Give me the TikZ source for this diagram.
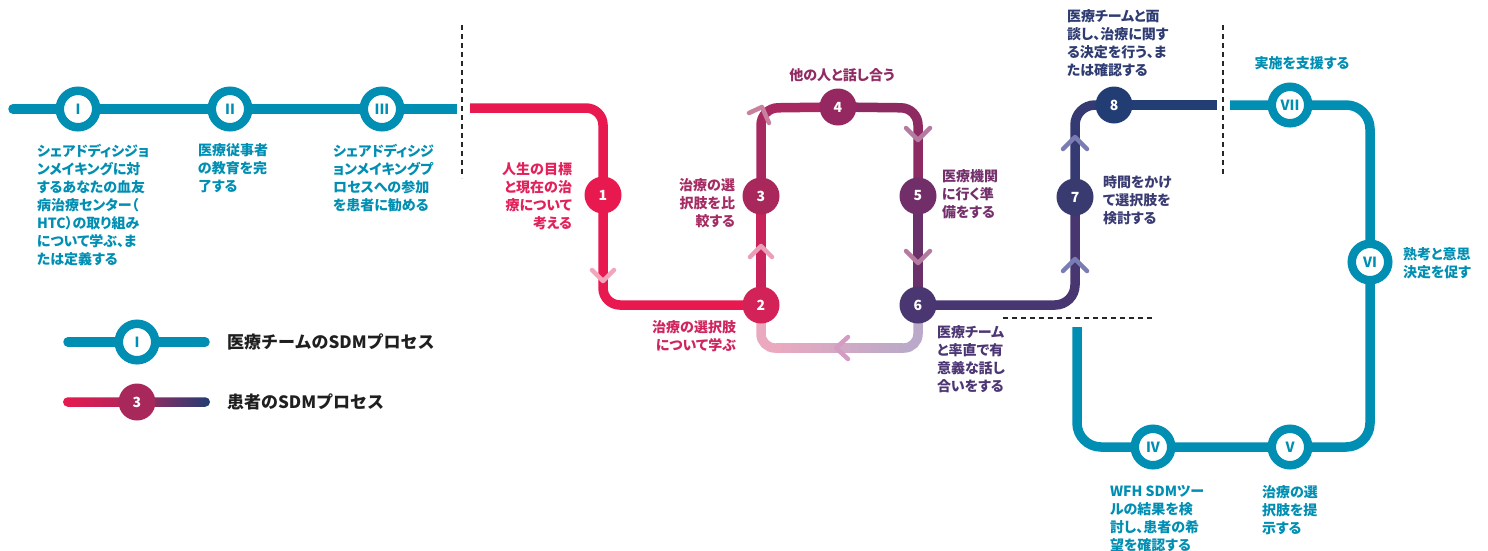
\documentclass[tikz,border=0pt]{standalone}
\usepackage{fontspec}
\newfontfamily\jp{Noto Sans CJK JP}[RawFeature=+palt]
\newfontfamily\jpl{Noto Sans CJK JP}
\usetikzlibrary{calc}
\pgfdeclarelayer{bg}
\pgfsetlayers{bg,main}
\definecolor{tealc}{HTML}{008EB2}
\definecolor{n1c}{HTML}{E8194F}
\definecolor{n2c}{HTML}{D22257}
\definecolor{n3c}{HTML}{A8285C}
\definecolor{n4c}{HTML}{952860}
\definecolor{n5c}{HTML}{722E68}
\definecolor{n6c}{HTML}{4A3670}
\definecolor{n7c}{HTML}{393A70}
\definecolor{n8c}{HTML}{213D74}
\definecolor{sA}{HTML}{E8194F}
\definecolor{sB}{HTML}{C8235A}
\definecolor{sC}{HTML}{A82860}
\definecolor{sD}{HTML}{8E2A62}
\definecolor{sE}{HTML}{6A306A}
\definecolor{sF}{HTML}{483670}
\definecolor{sG}{HTML}{353A72}
\definecolor{sH}{HTML}{233D75}
\definecolor{rA}{HTML}{EAA9BF}
\definecolor{rB}{HTML}{BBA9C9}
\definecolor{t1}{HTML}{E2215A}
\definecolor{t2}{HTML}{D0245C}
\definecolor{t3}{HTML}{A52B62}
\definecolor{t4}{HTML}{902B63}
\definecolor{t5}{HTML}{73306B}
\definecolor{t6}{HTML}{4C3673}
\definecolor{t7}{HTML}{3A3B72}
\definecolor{t8}{HTML}{2E3C72}
\definecolor{cpink}{HTML}{F3A5BC}
\definecolor{cpink2}{HTML}{EC9DB8}
\definecolor{cmag}{HTML}{C9809F}
\definecolor{cplum}{HTML}{B57A9F}
\definecolor{clav}{HTML}{D49CC3}
\definecolor{cblue}{HTML}{7A7DB4}
\begin{document}
\begin{tikzpicture}[x=1pt,y=-1pt,
  every node/.style={inner sep=0pt, outer sep=0pt},
  ring/.style={circle, draw=tealc, line width=8.5pt, fill=white, minimum size=36.5pt, font=\jp\bfseries\fontsize{14}{14}\selectfont, text=tealc},
  pnode/.style={circle, minimum size=37pt, text=white, font=\jp\bfseries\fontsize{14}{14}\selectfont},
  lbl/.style={font=\jp\bfseries\fontsize{14}{18}\selectfont},
  leg/.style={font=\jpl\bfseries\fontsize{17}{17}\selectfont, text=black!88, anchor=west},
  tline/.style={draw=tealc, line width=9.5pt},
  pline/.style={line width=9.5pt},
  chev/.style={line width=4.5pt, line cap=round, line join=round},
  sepline/.style={draw=black!85, line width=1.6pt, dash pattern=on 5pt off 4pt}
]
\useasboundingbox (0,0) rectangle (1488,550);

% ---- nodes ----
\node[ring] (r1) at (78,109) {I};
\node[ring] (r2) at (230,109) {II};
\node[ring] (r3) at (382,109) {III};

\node[pnode, fill=n1c] (p1) at (603,195) {1};
\node[pnode, fill=n2c] (p2) at (761,305) {2};
\node[pnode, fill=n3c] (p3) at (761,196) {3};
\node[pnode, fill=n4c] (p4) at (838,107) {4};
\node[pnode, fill=n5c] (p5) at (918,196) {5};
\node[pnode, fill=n6c] (p6) at (918,305) {6};
\node[pnode, fill=n7c] (p7) at (1075,197) {7};
\node[pnode, fill=n8c] (p8) at (1114,105) {8};

\node[ring] (r7) at (1290,105) {VII};
\node[ring] (r6) at (1370,262) {VI};
\node[ring] (r4) at (1153,447) {IV};
\node[ring] (r5) at (1290,447) {V};

% ---- coordinates ----
\coordinate (tL) at (13,109);
\coordinate (tR) at (457,109);
\coordinate (pS) at (470,108);
\coordinate (k1) at (603,108);
\coordinate (k2) at (603,305);
\coordinate (k3) at (761,108);
\coordinate (k4) at (918,108);
\coordinate (k5) at (1075,305);
\coordinate (k6) at (1075,105);
\coordinate (pE) at (1217,105);
\coordinate (q1) at (761,348);
\coordinate (q2) at (918,348);
\coordinate (u0) at (1230,105);
\coordinate (u1) at (1370,105);
\coordinate (u2) at (1370,447);
\coordinate (u3) at (1077,447);
\coordinate (u4) at (1077,327);

\begin{pgfonlayer}{bg}
% teal left
\draw[tline, line cap=round] (tL) -- (r2.center);
\draw[tline] (r2.center) -- (tR);
% patient path
\draw[pline, draw=sA, rounded corners=17] (pS) -- (k1) -- (p1.center);
\draw[pline, draw=sA, rounded corners=17] (p1.center) -- (k2) -- (p2.center);
\draw[pline, draw=sB] (p2.center) -- (p3.center);
\draw[pline, draw=sC, rounded corners=17] (p3.center) -- (k3) -- (p4.center);
\draw[pline, draw=sD, rounded corners=17] (p4.center) -- (k4) -- (p5.center);
\draw[pline, draw=sE] (p5.center) -- (p6.center);
\draw[pline, draw=sF, rounded corners=20] (p6.center) -- (k5) -- (p7.center);
\draw[pline, draw=sG, rounded corners=20] (p7.center) -- (k6) -- (p8.center);
\draw[pline, draw=sH] (p8.center) -- (pE);
% return path
\draw[pline, draw=rA, rounded corners=14] (p2.center) -- (q1) -- ($(q1)+(16,0)$);
\draw[pline, draw=rB, rounded corners=14] ($(q2)+(-16,0)$) -- (q2) -- (p6.center);
\shade[left color=rA, right color=rB] (776,343.25) rectangle (903,352.75);
% teal right
\draw[tline, rounded corners=24] (u0) -- (r7.center) -- (u1) -- (r6.center) -- (u2) -- (r5.center) -- (r4.center) -- (u3) -- (u4);
\end{pgfonlayer}

% ---- separators ----
\coordinate (d1a) at (462,25); \coordinate (d1b) at (462,178);
\coordinate (d2a) at (1223,25); \coordinate (d2b) at (1223,177);
\coordinate (d3a) at (1003,318); \coordinate (d3b) at (1155,318);
\draw[sepline] (d1a) -- (d1b);
\draw[sepline] (d2a) -- (d2b);
\draw[sepline] (d3a) -- (d3b);

% ---- chevrons ----
\draw[chev, draw=cpink] (592,270) -- (603,281) -- (614,270);
\draw[chev, draw=cpink2] (750,257) -- (761,246) -- (772,257);
\draw[chev, draw=cmag] (749,113) -- (762,107) -- (769,123);
\draw[chev, draw=cplum] (906,128) -- (918,140) -- (930,128);
\draw[chev, draw=cplum] (906,251) -- (918,263) -- (930,251);
\draw[chev, draw=clav] (848,337) -- (836,348) -- (848,359);
\draw[chev, draw=cblue] (1063,149) -- (1075,137) -- (1087,149);
\draw[chev, draw=cblue] (1063,271) -- (1075,259) -- (1087,271);

% ---- labels ----
\node[lbl, text=tealc, anchor=north west, align=left] (l1) at (37,144) {シェアドディシジョ\\ンメイキングに対\\するあなたの血友\\病治療センター（\\HTC）の取り組み\\について学ぶ、ま\\たは定義する};
\node[lbl, text=tealc, anchor=north west, align=left] (l2) at (198,144) {医療従事者\\の教育を完\\了する};
\node[lbl, text=tealc, anchor=north west, align=left] (l3) at (333,144) {シェアドディシジ\\ョンメイキングプ\\ロセスへの参加\\を患者に勧める};
\node[lbl, text=t1, anchor=north east, align=right] (lp1) at (572,163) {人生の目標\\と現在の治\\療について\\考える};
\node[lbl, text=t2, anchor=north east, align=right] (lp2) at (736,320) {治療の選択肢\\について学ぶ};
\node[lbl, text=t3, anchor=north east, align=right] (lp3) at (735,178) {治療の選\\択肢を比\\較する};
\node[lbl, text=t4] (lp4) at (842,75) {他の人と話し合う};
\node[lbl, text=t5, anchor=north west, align=left] (lp5) at (942,170) {医療機関\\に行く準\\備をする};
\node[lbl, text=t6, anchor=north west, align=left] (lp6) at (937,326) {医療チーム\\と率直で有\\意義な話し\\合いをする};
\node[lbl, text=t7, anchor=north west, align=left] (lp7) at (1103,176) {時間をかけ\\て選択肢を\\検討する};
\node[lbl, text=t8, anchor=north west, align=left] (lp8) at (1067,10) {医療チームと面\\談し、治療に関す\\る決定を行う、ま\\たは確認する};
\node[lbl, text=tealc] (l7) at (1302,63) {実施を支援する};
\node[lbl, text=tealc, anchor=north west, align=left] (l6) at (1403,248) {熟考と意思\\決定を促す};
\node[lbl, text=tealc, anchor=north west, align=left] (l4) at (1110,485) {WFH SDMツー\\ルの結果を検\\討し、患者の希\\望を確認する};
\node[lbl, text=tealc, anchor=north west, align=left] (l5) at (1262,485) {治療の選\\択肢を提\\示する};

% ---- legend ----
\coordinate (g1a) at (68,342); \coordinate (g1b) at (205,342);
\draw[tline, line cap=round] (g1a) -- (g1b);
\node[ring] (lg1) at (137,342) {I};
\shade[left color=sA, right color=n8c, middle color=n3c, rounded corners=4.75] (63,397.25) rectangle (210,406.75);
\node[pnode, fill=n3c] (lg2) at (137,402) {3};
\node[leg] (lt1) at (227,342) {医療チームのSDMプロセス};
\node[leg] (lt2) at (227,402) {患者のSDMプロセス};
\end{tikzpicture}
\end{document}
